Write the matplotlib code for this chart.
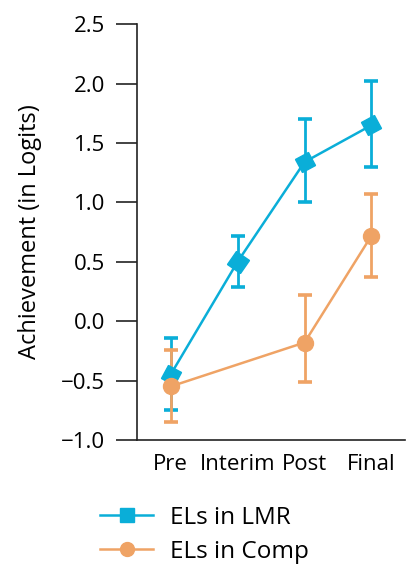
import numpy as np
import matplotlib
matplotlib.use('Agg')
import matplotlib.pyplot as plt
from matplotlib.markers import MarkerStyle

plt.rcParams['font.family'] = ['Open Sans', 'DejaVu Sans']

# data
stages = ['Pre', 'Interim', 'Post', 'Final']
lmr = [-0.45, 0.50, 1.34, 1.65]
lmr_lo = [-0.75, 0.29, 1.00, 1.30]
lmr_hi = [-0.14, 0.72, 1.70, 2.02]
comp = [-0.55, None, -0.18, 0.72]
comp_lo = [-0.85, None, -0.51, 0.37]
comp_hi = [-0.24, None, 0.22, 1.07]

blue = '#0AAED8'
orange = '#EFA365'
fs = 16

fig = plt.figure(figsize=(4.07, 5.64), dpi=100)
ax = fig.add_axes([0.337, 0.22, 0.658, 0.737])


def draw_series(vals, lo, hi, color, marker, label, rotate):
    x = np.array([i for i, v in enumerate(vals) if v is not None], dtype=float)
    y = np.array([v for v in vals if v is not None])
    ylo = np.array([v for v in lo if v is not None])
    yhi = np.array([v for v in hi if v is not None])
    ax.errorbar(x, y, yerr=[y - ylo, yhi - y], fmt='none', ecolor=color,
                elinewidth=2.0, capsize=5.2, capthick=2.6, zorder=2)
    ax.plot(x, y, color=color, lw=1.8, zorder=3)
    # legend proxy
    ax.plot([], [], color=color, lw=1.8, marker=marker, ms=10, label=label)
    if not rotate:
        ax.plot(x, y, ls='none', marker=marker, ms=11.5, color=color, mec=color, zorder=4)
        return
    fig.canvas.draw()
    pts = ax.transData.transform(np.column_stack([x, y]))
    for i in range(len(x)):
        j = i if i < len(x) - 1 else i - 1
        dx, dy = pts[j + 1] - pts[j]
        ang = np.degrees(np.arctan2(dy, dx))
        m = MarkerStyle('s')
        m._transform = m.get_transform().rotate_deg(ang)
        ax.plot(x[i], y[i], ls='none', marker=m, ms=11, color=color, mec=color, zorder=4)


ax.set_xlim(-0.5, 3.5)
ax.set_ylim(-1.0, 2.5)
ax.set_yticks(np.arange(-1.0, 2.51, 0.5))
ax.set_yticklabels(['\u22121.0', '\u22120.5', '0.0', '0.5', '1.0', '1.5', '2.0', '2.5'])
ax.set_xticks(range(len(stages)))
ax.set_xticklabels(stages)

draw_series(lmr, lmr_lo, lmr_hi, blue, 's', 'ELs in LMR', True)
draw_series(comp, comp_lo, comp_hi, orange, 'o', 'ELs in Comp', False)

for s in ['top', 'right']:
    ax.spines[s].set_visible(False)
for s in ['left', 'bottom']:
    ax.spines[s].set_color('#222222')
    ax.spines[s].set_linewidth(1.2)

ax.tick_params(axis='y', direction='out', length=15, width=1.2, pad=8,
               labelsize=fs, color='#222222')
ax.tick_params(axis='x', length=0, pad=10, labelsize=fs)
ax.set_ylabel('Achievement (in Logits)', fontsize=17, labelpad=14)

fig.legend(loc='upper left', bbox_to_anchor=(100 / 407, 1 - 506 / 564), frameon=False,
           fontsize=17.5, handlelength=2.2, handletextpad=0.7, labelspacing=0.4,
           borderaxespad=0, borderpad=0)

fig.savefig('out.png', dpi=100)
